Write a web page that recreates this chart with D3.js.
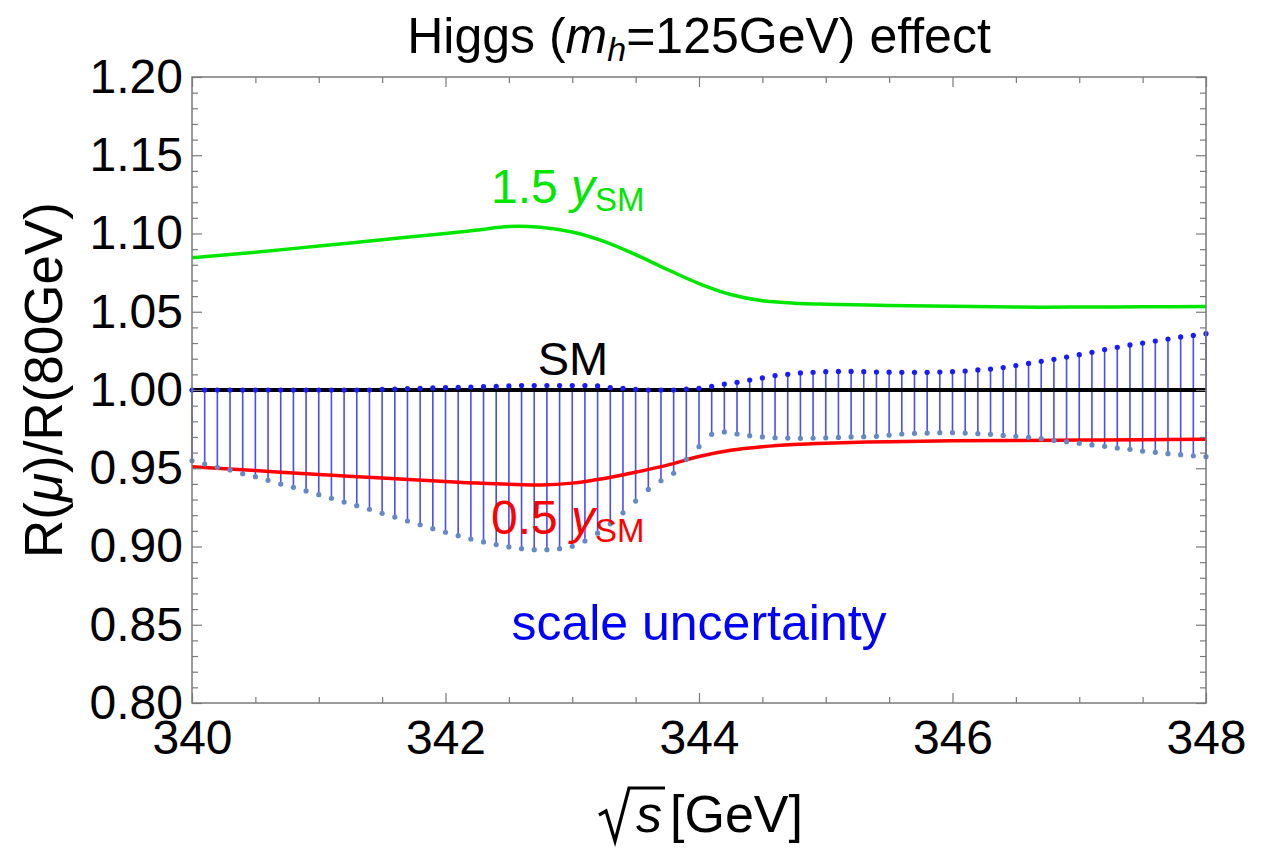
<!DOCTYPE html>
<html>
<head>
<meta charset="utf-8">
<script src="https://cdn.jsdelivr.net/npm/d3@7"></script>
<style>
  body { margin: 0; background: #fff; }
  text { font-family: "Liberation Sans", Arial, sans-serif; }
</style>
</head>
<body>
<script>
// ---- data ----
const xTicks = [340, 342, 344, 346, 348];
const yTicks = [0.80, 0.85, 0.90, 0.95, 1.00, 1.05, 1.10, 1.15, 1.20];

// scale uncertainty, sampled every 0.1 GeV
const energies = [
  340.0, 340.1, 340.2, 340.3, 340.4, 340.5, 340.6, 340.7, 340.8, 340.9,
  341.0, 341.1, 341.2, 341.3, 341.4, 341.5, 341.6, 341.7, 341.8, 341.9,
  342.0, 342.1, 342.2, 342.3, 342.4, 342.5, 342.6, 342.7, 342.8, 342.9,
  343.0, 343.1, 343.2, 343.3, 343.4, 343.5, 343.6, 343.7, 343.8, 343.9,
  344.0, 344.1, 344.2, 344.3, 344.4, 344.5, 344.6, 344.7, 344.8, 344.9,
  345.0, 345.1, 345.2, 345.3, 345.4, 345.5, 345.6, 345.7, 345.8, 345.9,
  346.0, 346.1, 346.2, 346.3, 346.4, 346.5, 346.6, 346.7, 346.8, 346.9,
  347.0, 347.1, 347.2, 347.3, 347.4, 347.5, 347.6, 347.7, 347.8, 347.9,
  348.0
];
const upperBand = [
  1.0000, 1.0000, 1.0000, 1.0000, 1.0000, 1.0000, 1.0000, 1.0000, 1.0000, 1.0000,
  1.0000, 1.0000, 1.0000, 1.0000, 1.0000, 1.0004, 1.0006, 1.0009, 1.0011, 1.0013,
  1.0015, 1.0017, 1.0019, 1.0021, 1.0023, 1.0026, 1.0028, 1.0028, 1.0028, 1.0028,
  1.0028, 1.0028, 1.0026, 1.0015, 1.0011, 1.0004, 1.0000, 1.0000, 1.0000, 1.0006,
  1.0011, 1.0023, 1.0038, 1.0049, 1.0064, 1.0077, 1.0092, 1.0100, 1.0109, 1.0113,
  1.0117, 1.0119, 1.0119, 1.0117, 1.0115, 1.0114, 1.0113, 1.0113, 1.0113, 1.0115,
  1.0117, 1.0121, 1.0128, 1.0134, 1.0143, 1.0156, 1.0170, 1.0183, 1.0196, 1.0211,
  1.0226, 1.0241, 1.0258, 1.0273, 1.0288, 1.0300, 1.0313, 1.0326, 1.0339, 1.0349,
  1.0360
];
const lowerBand = [
  0.9548, 0.9527, 0.9506, 0.9489, 0.9465, 0.9446, 0.9423, 0.9399, 0.9378, 0.9355,
  0.9331, 0.9308, 0.9284, 0.9261, 0.9238, 0.9212, 0.9188, 0.9163, 0.9139, 0.9114,
  0.9091, 0.9069, 0.9048, 0.9029, 0.9012, 0.8997, 0.8986, 0.8980, 0.8980, 0.8986,
  0.9001, 0.9035, 0.9085, 0.9145, 0.9215, 0.9290, 0.9365, 0.9420, 0.9468, 0.9557,
  0.9638, 0.9717, 0.9732, 0.9719, 0.9708, 0.9700, 0.9695, 0.9693, 0.9691, 0.9693,
  0.9695, 0.9697, 0.9700, 0.9702, 0.9704, 0.9712, 0.9719, 0.9723, 0.9725, 0.9727,
  0.9727, 0.9725, 0.9721, 0.9717, 0.9710, 0.9704, 0.9698, 0.9689, 0.9678, 0.9670,
  0.9659, 0.9649, 0.9640, 0.9629, 0.9621, 0.9610, 0.9602, 0.9593, 0.9587, 0.9580,
  0.9574
];

// yukawa variations
const curveE = [340, 340.5, 341, 341.5, 342, 342.25, 342.5, 342.75, 343, 343.25, 343.5, 343.75,
                344, 344.25, 344.5, 344.75, 345, 345.5, 346, 346.5, 347, 347.5, 348];
const green15 = [1.0845, 1.0880, 1.0920, 1.0960, 1.1000, 1.1022, 1.1045, 1.1040, 1.1010, 1.0950, 1.0865, 1.0770,
                 1.0680, 1.0610, 1.0570, 1.0555, 1.0548, 1.0540, 1.0535, 1.0530, 1.0530, 1.0532, 1.0533];
const red05 = [0.9510, 0.9485, 0.9460, 0.9438, 0.9415, 0.9405, 0.9397, 0.9393, 0.9405, 0.9435, 0.9475, 0.9520,
               0.9575, 0.9615, 0.9638, 0.9652, 0.9660, 0.9670, 0.9675, 0.9678, 0.9680, 0.9682, 0.9685];
const smE = [340, 348];
const smVals = [1.0, 1.0];

// ---- setup ----
const width = 1276;
const height = 848;
const pLeft = 192, pRight = 1206, pTop = 77, pBottom = 703;
const fontFam = '"Liberation Sans", Arial, sans-serif';

let svg = d3.select("body").append("svg")
  .attr("width", width)
  .attr("height", height);

let x = d3.scaleLinear().domain([340, 348]).range([pLeft, pRight]);
let y = d3.scaleLinear().domain([0.80, 1.20]).range([pBottom, pTop]);

// minor tick positions
const xMinor = d3.range(340, 348.001, 0.5).filter(v => Math.abs(v % 2) > 0.01);
const yMinor = d3.range(80, 120.5, 1).filter(v => v % 5 !== 0).map(v => v / 100);

let plot = svg.append("g");
svg.append("clipPath").attr("id", "clip")
  .append("rect").attr("x", pLeft).attr("y", pTop).attr("width", pRight - pLeft).attr("height", pBottom - pTop);

// stems
let band = energies.map((e, i) => ({e: e, hi: upperBand[i], lo: lowerBand[i]}));

plot.append("g").selectAll("line")
  .data(band)
  .enter().append("line")
    .attr("x1", d => x(d.e)).attr("x2", d => x(d.e))
    .attr("y1", d => y(d.hi)).attr("y2", d => y(d.lo))
    .attr("stroke", "#4a4aff")
    .attr("stroke-width", 1.6);

// lines
let line = d3.line().x(d => x(d[0])).y(d => y(d[1])).curve(d3.curveCatmullRom.alpha(0.5));
let lines = plot.append("g").attr("clip-path", "url(#clip)");

lines.append("path")
  .attr("d", line(smE.map((e, i) => [e, smVals[i]])))
  .attr("stroke", "#000").attr("stroke-width", 4).attr("fill", "none");
lines.append("path")
  .attr("d", line(curveE.map((e, i) => [e, red05[i]])))
  .attr("stroke", "#ff0000").attr("stroke-width", 3.5).attr("fill", "none");
lines.append("path")
  .attr("d", line(curveE.map((e, i) => [e, green15[i]])))
  .attr("stroke", "#00e600").attr("stroke-width", 3.5).attr("fill", "none");

// dots
plot.append("g").selectAll("circle")
  .data(band)
  .enter().append("circle")
    .attr("cx", d => x(d.e)).attr("cy", d => y(d.lo)).attr("r", 2.6)
    .attr("fill", "#6688c4");
plot.append("g").selectAll("circle")
  .data(band)
  .enter().append("circle")
    .attr("cx", d => x(d.e)).attr("cy", d => y(d.hi)).attr("r", 2.6)
    .attr("fill", "#1a1aff");

// ---- frame and ticks ----
const frameCol = "#7a7a7a";
function styleAxis(g) {
  g.select(".domain").remove();
  g.selectAll(".tick line").attr("stroke", frameCol).attr("stroke-width", 1.2);
  g.selectAll("text").attr("font-family", fontFam).attr("font-size", 48).attr("fill", "#000");
}

svg.append("g").attr("transform", "translate(0," + pBottom + ")")
  .call(d3.axisBottom(x).tickValues(xTicks).tickFormat(d3.format("d")).tickSize(-10).tickPadding(17))
  .call(styleAxis);
svg.append("g").attr("transform", "translate(0," + pBottom + ")")
  .call(d3.axisBottom(x).tickValues(xMinor).tickFormat("").tickSize(-6))
  .call(styleAxis);
svg.append("g").attr("transform", "translate(0," + pTop + ")")
  .call(d3.axisTop(x).tickValues(xTicks).tickFormat("").tickSize(-10))
  .call(styleAxis);
svg.append("g").attr("transform", "translate(0," + pTop + ")")
  .call(d3.axisTop(x).tickValues(xMinor).tickFormat("").tickSize(-6))
  .call(styleAxis);

svg.append("g").attr("transform", "translate(" + pLeft + ",0)")
  .call(d3.axisLeft(y).tickValues(yTicks).tickFormat(d3.format(".2f")).tickSize(-10).tickPadding(9))
  .call(styleAxis);
svg.append("g").attr("transform", "translate(" + pLeft + ",0)")
  .call(d3.axisLeft(y).tickValues(yMinor).tickFormat("").tickSize(-6))
  .call(styleAxis);
svg.append("g").attr("transform", "translate(" + pRight + ",0)")
  .call(d3.axisRight(y).tickValues(yTicks).tickFormat("").tickSize(-10))
  .call(styleAxis);
svg.append("g").attr("transform", "translate(" + pRight + ",0)")
  .call(d3.axisRight(y).tickValues(yMinor).tickFormat("").tickSize(-6))
  .call(styleAxis);

svg.append("rect")
  .attr("x", pLeft).attr("y", pTop).attr("width", pRight - pLeft).attr("height", pBottom - pTop)
  .attr("fill", "none").attr("stroke", frameCol).attr("stroke-width", 1.5);

// ---- text ----
let title = svg.append("text")
  .attr("x", (pLeft + pRight) / 2).attr("y", 53)
  .attr("text-anchor", "middle").attr("font-size", 50);
title.append("tspan").text("Higgs (");
title.append("tspan").attr("font-style", "italic").text("m");
title.append("tspan").attr("font-style", "italic").attr("font-size", 34).attr("dy", 8).text("h");
title.append("tspan").attr("dy", -8).text("=125GeV) effect");

let ylab = svg.append("text")
  .attr("transform", "translate(62,380) rotate(-90)")
  .attr("text-anchor", "middle").attr("font-size", 53);
ylab.append("tspan").text("R(");
ylab.append("tspan").attr("font-style", "italic").text("μ");
ylab.append("tspan").text(")/R(80GeV)");

// sqrt(s) [GeV]
let xlab = svg.append("g");
let sTxt = xlab.append("text").attr("x", 636).attr("y", 832).attr("font-size", 52)
  .attr("font-style", "italic").text("s");
xlab.append("text").attr("x", 670).attr("y", 832).attr("font-size", 52).text("[GeV]");
let sb = sTxt.node().getBBox();
let rp = d3.path();
rp.moveTo(599, 815); rp.lineTo(606, 811); rp.lineTo(615, 841);
rp.lineTo(629, 788); rp.lineTo(sb.x + sb.width + 3, 788);
xlab.append("path").attr("d", rp.toString())
  .attr("fill", "none").attr("stroke", "#000").attr("stroke-width", 3.2)
  .attr("stroke-linejoin", "miter");

function sublabel(xp, yp, main, colour) {
  let t = svg.append("text").attr("x", xp).attr("y", yp).attr("font-size", 48).attr("fill", colour);
  t.append("tspan").text(main + " ");
  t.append("tspan").attr("font-style", "italic").text("y");
  t.append("tspan").attr("font-size", 33).attr("dy", 8).text("SM");
}
sublabel(491, 203, "1.5", "#00e600");
sublabel(491, 534, "0.5", "#ff0000");

svg.append("text").attr("x", 573).attr("y", 375).attr("text-anchor", "middle")
  .attr("font-size", 47).text("SM");
svg.append("text").attr("x", 699).attr("y", 640).attr("text-anchor", "middle")
  .attr("font-size", 50).attr("fill", "#0000ff").text("scale uncertainty");
</script>
</body>
</html>
